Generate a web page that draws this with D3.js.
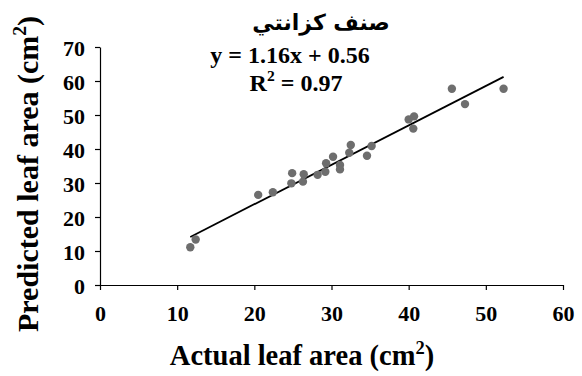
<!DOCTYPE html>
<html>
<head>
<meta charset="utf-8">
<script src="https://cdn.jsdelivr.net/npm/d3@7"></script>
<style>
  body { margin: 0; background: #fff; }
</style>
</head>
<body>
<div id="chart"></div>
<script>
// Actual vs predicted leaf area (cm2)
const actual = [11.7, 12.4, 20.5, 22.4, 24.8, 24.9, 26.3, 26.4, 28.2, 29.2, 29.3, 30.2, 31.1, 31.1, 32.3, 32.5, 34.6, 35.2, 40.0, 40.7, 40.6, 45.6, 47.3, 52.3];
const predicted = [11.1, 13.4, 26.5, 27.3, 29.9, 32.9, 30.4, 32.6, 32.4, 33.3, 35.8, 37.7, 35.3, 34.0, 38.9, 41.2, 38.0, 40.9, 48.7, 49.6, 46.0, 57.7, 53.2, 57.7];
const xTicks = [0, 10, 20, 30, 40, 50, 60];
const yTicks = [0, 10, 20, 30, 40, 50, 60, 70];
const slope = 1.16, intercept = 0.56;
const titleLines = ['صنف كزانتي', 'y = 1.16x + 0.56'];

const serif = '"Liberation Serif", "Times New Roman", serif';
const width = 582, height = 376;
const svg = d3.select('#chart').append('svg')
    .attr('width', width)
    .attr('height', height);

const x = d3.scaleLinear().domain([0, 60]).range([100, 563]);
const y = d3.scaleLinear().domain([0, 70]).range([285, 47]);

// Axes
const xAxis = svg.append('g')
    .attr('transform', `translate(0,${y(0)})`)
    .call(d3.axisBottom(x).tickValues(xTicks).tickSize(5).tickSizeOuter(0));
const yAxis = svg.append('g')
    .attr('transform', `translate(${x(0)},0)`)
    .call(d3.axisLeft(y).tickValues(yTicks).tickSize(5).tickSizeOuter(0));

[xAxis, yAxis].forEach(g => {
    g.attr('font-family', serif).attr('font-size', 22).attr('font-weight', 'bold');
    g.select('.domain').attr('stroke', '#000').attr('stroke-width', 1.2);
    g.selectAll('.tick line').attr('stroke', '#000').attr('stroke-width', 1.2);
    g.selectAll('.tick text').attr('fill', '#000');
});
xAxis.selectAll('.tick text').attr('y', 36).attr('dy', 0);
yAxis.selectAll('.tick text').attr('x', -15).attr('dy', '0.38em');

// Regression line
const xExt = d3.extent(actual);
svg.append('line')
    .attr('x1', x(xExt[0])).attr('y1', y(slope * xExt[0] + intercept))
    .attr('x2', x(xExt[1])).attr('y2', y(slope * xExt[1] + intercept))
    .attr('stroke', '#000')
    .attr('stroke-width', 1.8);

// Points
svg.append('g').selectAll('circle')
    .data(actual.map((d, i) => [d, predicted[i]]))
    .join('circle')
    .attr('cx', d => x(d[0]))
    .attr('cy', d => y(d[1]))
    .attr('r', 4.2)
    .attr('fill', '#6e6e6e');

// Title block
const label = (px, py, size, fam) => svg.append('text')
    .attr('x', px).attr('y', py)
    .attr('text-anchor', 'middle')
    .attr('font-family', fam || serif)
    .attr('font-weight', 'bold')
    .attr('font-size', size)
    .attr('fill', '#000');

// arabic shaping throws off the middle anchor, so place it by hand
label(321, 30, 22, '"DejaVu Sans", sans-serif').text(titleLines[0]);
label(290, 63, 24).text(titleLines[1]);

const sup = (t, base, size) => {
    t.append('tspan').text(base[0]);
    t.append('tspan').attr('dy', -size * 0.4).attr('font-size', size * 0.65).text('2');
    t.append('tspan').attr('dy', size * 0.4).text(base[1]);
};
sup(label(296, 91, 24), ['R', ' = 0.97'], 24);

// Axis titles
sup(label(302, 365, 28.5), ['Actual leaf area (cm', ')'], 28.5);
sup(label(0, 0, 30).attr('transform', 'translate(38,174) rotate(-90)'),
    ['Predicted leaf area (cm', ')'], 30);
</script>
</body>
</html>
